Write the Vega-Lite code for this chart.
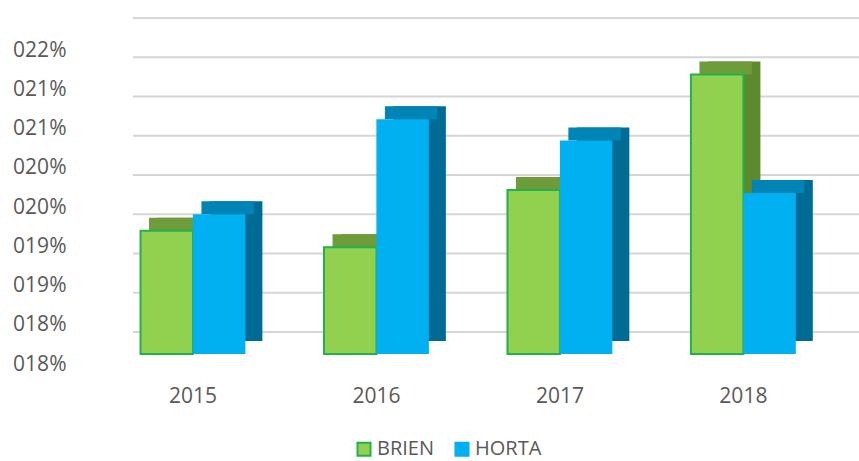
{
  "$schema": "https://vega.github.io/schema/vega-lite/v6.json",
  "width": 726,
  "height": 314,
  "autosize": {"type": "none"},
  "padding": {"left": 133, "top": 40, "right": 0, "bottom": 107},
  "background": "white",
  "config": {
    "view": {"stroke": null},
    "font": "Open Sans",
    "axis": {"labelColor": "#595959", "labelFontSize": 21, "ticks": false, "domain": false, "grid": false, "title": null},
    "legend": {"labelColor": "#595959", "labelFontSize": 20, "symbolType": "square", "symbolSize": 170, "symbolStrokeWidth": 2, "columnPadding": 16, "labelOffset": 3}
  },
  "datasets": {
    "sales": [
      {"year": "2015", "series": "BRIEN", "value": 0.1907},
      {"year": "2015", "series": "HORTA", "value": 0.1928},
      {"year": "2016", "series": "BRIEN", "value": 0.1886},
      {"year": "2016", "series": "HORTA", "value": 0.2049},
      {"year": "2017", "series": "BRIEN", "value": 0.1959},
      {"year": "2017", "series": "HORTA", "value": 0.2022},
      {"year": "2018", "series": "BRIEN", "value": 0.2106},
      {"year": "2018", "series": "HORTA", "value": 0.1955}
    ],
    "ticks": [
      {"value": 0.175}, {"value": 0.18}, {"value": 0.185}, {"value": 0.19}, {"value": 0.195},
      {"value": 0.2}, {"value": 0.205}, {"value": 0.21}, {"value": 0.215}
    ]
  },
  "encoding": {
    "y": {
      "field": "value",
      "type": "quantitative",
      "scale": {"domain": [0.175, 0.215], "zero": false, "nice": false},
      "axis": {
        "values": [0.175, 0.18, 0.185, 0.19, 0.195, 0.2, 0.205, 0.21, 0.215],
        "labelExpr": "'0' + round(datum.value * 100 + 0.000001) + '%'",
        "labelPadding": 67,
        "labelOffset": 10
      }
    }
  },
  "layer": [
    {
      "data": {"name": "ticks"},
      "mark": {"type": "rule", "color": "#D6D6D6", "strokeWidth": 2, "yOffset": -22, "y2Offset": -22},
      "encoding": {}
    },
    {
      "data": {"name": "sales"},
      "transform": [{"filter": "datum.series === 'BRIEN'"}],
      "mark": {"type": "bar", "width": {"band": 0.5}, "xOffset": -9.2, "yOffset": -13, "y2Offset": -13, "color": "#5E8A2F"},
      "encoding": {
        "x": {"field": "year", "type": "nominal", "scale": {"paddingInner": 0.428, "paddingOuter": 0.1925, "align": 0.106}, "axis": {"labelAngle": 0, "labelPadding": 31}},
        "y2": {"datum": 0.175}
      }
    },
    {
      "data": {"name": "sales"},
      "transform": [{"filter": "datum.series === 'HORTA'"}],
      "mark": {"type": "bar", "width": {"band": 0.5}, "xOffset": 43.2, "yOffset": -13, "y2Offset": -13, "color": "#006C95"},
      "encoding": {
        "x": {"field": "year", "type": "nominal", "scale": {"paddingInner": 0.428, "paddingOuter": 0.1925, "align": 0.106}, "axis": {"labelAngle": 0, "labelPadding": 31}},
        "y2": {"datum": 0.175}
      }
    },
    {
      "data": {"name": "sales"},
      "transform": [{"filter": "datum.series === 'BRIEN'"}],
      "mark": {"type": "bar", "width": {"band": 0.5}, "xOffset": -17.7, "yOffset": -13, "y2Offset": 0, "color": "#6F9C3A"},
      "encoding": {
        "x": {"field": "year", "type": "nominal", "scale": {"paddingInner": 0.428, "paddingOuter": 0.1925, "align": 0.106}, "axis": {"labelAngle": 0, "labelPadding": 31}},
        "y2": {"field": "value"}
      }
    },
    {
      "data": {"name": "sales"},
      "transform": [{"filter": "datum.series === 'HORTA'"}],
      "mark": {"type": "bar", "width": {"band": 0.5}, "xOffset": 34.7, "yOffset": -13, "y2Offset": 0, "color": "#0083B5"},
      "encoding": {
        "x": {"field": "year", "type": "nominal", "scale": {"paddingInner": 0.428, "paddingOuter": 0.1925, "align": 0.106}, "axis": {"labelAngle": 0, "labelPadding": 31}},
        "y2": {"field": "value"}
      }
    },
    {
      "data": {"name": "sales"},
      "transform": [{"filter": "datum.series === 'BRIEN'"}],
      "mark": {"type": "bar", "width": {"band": 0.5}, "xOffset": -26.2, "strokeWidth": 2},
      "encoding": {
        "x": {"field": "year", "type": "nominal", "scale": {"paddingInner": 0.428, "paddingOuter": 0.1925, "align": 0.106}, "axis": {"labelAngle": 0, "labelPadding": 31}},
        "y2": {"datum": 0.175},
        "fill": {"field": "series", "type": "nominal", "scale": {"domain": ["BRIEN", "HORTA"], "range": ["#92D050", "#00B0F0"]}, "legend": {"title": null, "orient": "none", "direction": "horizontal", "legendX": 221, "legendY": 399}},
        "stroke": {"field": "series", "type": "nominal", "scale": {"domain": ["BRIEN", "HORTA"], "range": ["#22B14C", "#00B0F0"]}, "legend": {"title": null, "orient": "none", "direction": "horizontal", "legendX": 221, "legendY": 399}}
      }
    },
    {
      "data": {"name": "sales"},
      "transform": [{"filter": "datum.series === 'HORTA'"}],
      "mark": {"type": "bar", "width": {"band": 0.5}, "xOffset": 26.2, "strokeWidth": 0},
      "encoding": {
        "x": {"field": "year", "type": "nominal", "scale": {"paddingInner": 0.428, "paddingOuter": 0.1925, "align": 0.106}, "axis": {"labelAngle": 0, "labelPadding": 31}},
        "y2": {"datum": 0.175},
        "fill": {"field": "series", "type": "nominal", "scale": {"domain": ["BRIEN", "HORTA"], "range": ["#92D050", "#00B0F0"]}, "legend": {"title": null, "orient": "none", "direction": "horizontal", "legendX": 221, "legendY": 399}},
        "stroke": {"field": "series", "type": "nominal", "scale": {"domain": ["BRIEN", "HORTA"], "range": ["#22B14C", "#00B0F0"]}, "legend": {"title": null, "orient": "none", "direction": "horizontal", "legendX": 221, "legendY": 399}}
      }
    }
  ]
}
